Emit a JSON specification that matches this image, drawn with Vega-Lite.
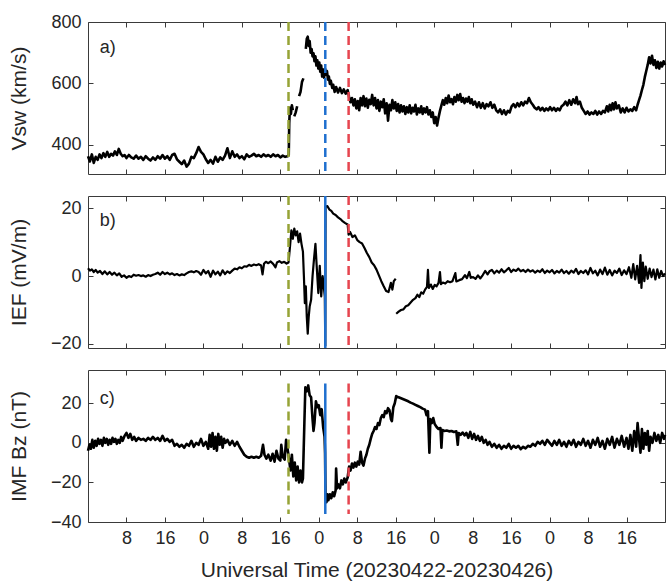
{
"$schema":"https://vega.github.io/schema/vega-lite/v6.json",
"background":"white",
"padding":{"left":7,"top":12,"right":2,"bottom":2},
"autosize":{"type":"pad"},
"config":{
 "view":{"stroke":"#3a3a3a","strokeWidth":1},
 "font":"Liberation Sans",
 "axis":{"domain":false,"grid":false,"tickColor":"#3a3a3a","tickSize":-5,"tickWidth":1,"labelFont":"Liberation Sans","labelFontSize":18,"labelColor":"#262626","titleFont":"Liberation Sans","titleFontSize":21,"titleFontWeight":"normal","titleColor":"#262626"},
 "axisY":{"labelPadding":12},
 "axisX":{"labelPadding":12}
},
"datasets":{
"ev":[{"t":41.7,"c":"g"},{"t":49.35,"c":"b"},{"t":54.2,"c":"r"}],
"vsw":[
{"t":0,"v":362,"s":1},{"t":0.4,"v":345,"s":1},{"t":0.8,"v":368,"s":1},{"t":1.2,"v":340,"s":1},{"t":1.6,"v":360,"s":1},{"t":2.0,"v":350,"s":1},{"t":2.4,"v":368,"s":1},{"t":2.8,"v":356,"s":1},{"t":3.2,"v":372,"s":1},{"t":3.6,"v":360,"s":1},{"t":4.0,"v":376,"s":1},{"t":4.4,"v":360,"s":1},{"t":4.8,"v":370,"s":1},{"t":5.2,"v":364,"s":1},{"t":5.6,"v":378,"s":1},{"t":6.0,"v":366,"s":1},{"t":6.4,"v":386,"s":1},{"t":6.8,"v":370,"s":1},{"t":7.2,"v":362,"s":1},{"t":7.6,"v":366,"s":1},{"t":8.0,"v":356,"s":1},{"t":8.5,"v":366,"s":1},{"t":9.0,"v":358,"s":1},{"t":9.5,"v":354,"s":1},{"t":10.0,"v":364,"s":1},{"t":10.5,"v":354,"s":1},{"t":11.0,"v":360,"s":1},{"t":11.5,"v":350,"s":1},{"t":12.0,"v":362,"s":1},{"t":12.5,"v":354,"s":1},{"t":13.0,"v":348,"s":1},{"t":13.5,"v":358,"s":1},{"t":14.0,"v":350,"s":1},{"t":14.5,"v":362,"s":1},{"t":15.0,"v":354,"s":1},{"t":15.5,"v":366,"s":1},{"t":16.0,"v":354,"s":1},{"t":16.5,"v":362,"s":1},{"t":17.0,"v":350,"s":1},{"t":17.5,"v":366,"s":1},{"t":18.0,"v":370,"s":1},{"t":18.5,"v":352,"s":1},{"t":19.0,"v":344,"s":1},{"t":19.5,"v":336,"s":1},{"t":20.0,"v":348,"s":1},{"t":20.5,"v":328,"s":1},{"t":21.0,"v":338,"s":1},{"t":21.5,"v":360,"s":1},{"t":22.0,"v":356,"s":1},{"t":22.5,"v":372,"s":1},{"t":23.0,"v":392,"s":1},{"t":23.5,"v":376,"s":1},{"t":24.0,"v":368,"s":1},{"t":24.5,"v":352,"s":1},{"t":25.0,"v":340,"s":1},{"t":25.5,"v":350,"s":1},{"t":26.0,"v":338,"s":1},{"t":26.5,"v":360,"s":1},{"t":27.0,"v":344,"s":1},{"t":27.5,"v":358,"s":1},{"t":28.0,"v":350,"s":1},{"t":28.5,"v":364,"s":1},{"t":29.0,"v":388,"s":1},{"t":29.5,"v":356,"s":1},{"t":30.0,"v":378,"s":1},{"t":30.5,"v":360,"s":1},{"t":31.0,"v":368,"s":1},{"t":31.5,"v":356,"s":1},{"t":32.0,"v":362,"s":1},{"t":32.5,"v":352,"s":1},{"t":33.0,"v":368,"s":1},{"t":33.5,"v":360,"s":1},{"t":34.0,"v":364,"s":1},{"t":34.5,"v":370,"s":1},{"t":35.0,"v":362,"s":1},{"t":35.5,"v":366,"s":1},{"t":36.0,"v":360,"s":1},{"t":36.5,"v":368,"s":1},{"t":37.0,"v":362,"s":1},{"t":37.5,"v":366,"s":1},{"t":38.0,"v":360,"s":1},{"t":38.5,"v":368,"s":1},{"t":39.0,"v":362,"s":1},{"t":39.5,"v":366,"s":1},{"t":40.0,"v":358,"s":1},{"t":40.5,"v":364,"s":1},{"t":41.0,"v":360,"s":1},{"t":41.5,"v":362,"s":1},{"t":41.75,"v":366,"s":1},{"t":41.85,"v":470,"s":1},{"t":42.0,"v":520,"s":1},{"t":42.2,"v":500,"s":1},{"t":42.4,"v":528,"s":1},{"t":42.6,"v":512,"s":1},
{"t":42.9,"v":492,"s":2},{"t":43.2,"v":505,"s":2},{"t":43.5,"v":525,"s":2},
{"t":43.9,"v":558,"s":3},{"t":44.2,"v":572,"s":3},{"t":44.5,"v":604,"s":3},{"t":44.8,"v":616,"s":3},
{"t":45.3,"v":712,"s":4},{"t":45.5,"v":745,"s":4},{"t":45.7,"v":752,"s":4},{"t":45.9,"v":722,"s":4},{"t":46.1,"v":738,"s":4},{"t":46.3,"v":700,"s":4},{"t":46.5,"v":712,"s":4},{"t":46.7,"v":688,"s":4},{"t":46.9,"v":698,"s":4},{"t":47.1,"v":672,"s":4},{"t":47.3,"v":688,"s":4},{"t":47.5,"v":658,"s":4},{"t":47.7,"v":675,"s":4},{"t":47.9,"v":648,"s":4},{"t":48.1,"v":668,"s":4},{"t":48.3,"v":638,"s":4},{"t":48.5,"v":658,"s":4},{"t":48.7,"v":622,"s":4},{"t":48.9,"v":645,"s":4},{"t":49.1,"v":618,"s":4},{"t":49.3,"v":648,"s":4},{"t":49.5,"v":628,"s":4},{"t":49.7,"v":640,"s":4},{"t":49.9,"v":612,"s":4},{"t":50.1,"v":622,"s":4},{"t":50.3,"v":598,"s":4},{"t":50.5,"v":608,"s":4},{"t":50.8,"v":585,"s":4},{"t":51.0,"v":595,"s":4},{"t":51.3,"v":572,"s":4},{"t":51.6,"v":588,"s":4},{"t":52.0,"v":570,"s":4},{"t":52.4,"v":585,"s":4},{"t":52.8,"v":568,"s":4},{"t":53.2,"v":580,"s":4},{"t":53.6,"v":566,"s":4},{"t":54.0,"v":578,"s":4},{"t":54.3,"v":555,"s":4},{"t":54.6,"v":538,"s":4},{"t":54.9,"v":552,"s":4},{"t":55.2,"v":528,"s":4},{"t":55.5,"v":548,"s":4},{"t":55.8,"v":518,"s":4},{"t":56.1,"v":542,"s":4},{"t":56.4,"v":512,"s":4},{"t":56.7,"v":552,"s":4},{"t":57.0,"v":528,"s":4},{"t":57.3,"v":558,"s":4},{"t":57.6,"v":525,"s":4},{"t":57.9,"v":550,"s":4},{"t":58.2,"v":520,"s":4},{"t":58.5,"v":546,"s":4},{"t":58.8,"v":532,"s":4},{"t":59.1,"v":562,"s":4},{"t":59.4,"v":528,"s":4},{"t":59.7,"v":552,"s":4},{"t":60.0,"v":518,"s":4},{"t":60.3,"v":545,"s":4},{"t":60.6,"v":510,"s":4},{"t":60.9,"v":540,"s":4},{"t":61.2,"v":522,"s":4},{"t":61.5,"v":548,"s":4},{"t":61.8,"v":502,"s":4},{"t":62.1,"v":535,"s":4},{"t":62.4,"v":478,"s":4},{"t":62.7,"v":530,"s":4},{"t":63.0,"v":512,"s":4},{"t":63.3,"v":545,"s":4},{"t":63.6,"v":518,"s":4},{"t":63.9,"v":538,"s":4},{"t":64.2,"v":510,"s":4},{"t":64.5,"v":532,"s":4},{"t":64.8,"v":505,"s":4},{"t":65.1,"v":528,"s":4},{"t":65.4,"v":508,"s":4},{"t":65.7,"v":525,"s":4},{"t":66.0,"v":500,"s":4},{"t":66.3,"v":522,"s":4},{"t":66.6,"v":505,"s":4},{"t":66.9,"v":528,"s":4},{"t":67.2,"v":502,"s":4},{"t":67.5,"v":520,"s":4},{"t":67.8,"v":508,"s":4},{"t":68.1,"v":530,"s":4},{"t":68.4,"v":498,"s":4},{"t":68.7,"v":518,"s":4},{"t":69.0,"v":505,"s":4},{"t":69.3,"v":525,"s":4},{"t":69.6,"v":500,"s":4},{"t":69.9,"v":518,"s":4},{"t":70.2,"v":505,"s":4},{"t":70.5,"v":522,"s":4},{"t":70.8,"v":498,"s":4},{"t":71.1,"v":512,"s":4},{"t":71.4,"v":490,"s":4},{"t":71.7,"v":505,"s":4},{"t":72.0,"v":470,"s":4},{"t":72.3,"v":490,"s":4},{"t":72.6,"v":462,"s":4},{"t":72.9,"v":488,"s":4},{"t":73.2,"v":510,"s":4},{"t":73.5,"v":528,"s":4},{"t":73.8,"v":545,"s":4},{"t":74.1,"v":530,"s":4},{"t":74.4,"v":552,"s":4},{"t":74.7,"v":535,"s":4},{"t":75.0,"v":560,"s":4},{"t":75.3,"v":538,"s":4},{"t":75.6,"v":548,"s":4},{"t":75.9,"v":532,"s":4},{"t":76.2,"v":555,"s":4},{"t":76.5,"v":540,"s":4},{"t":76.8,"v":562,"s":4},{"t":77.1,"v":545,"s":4},{"t":77.4,"v":565,"s":4},{"t":77.7,"v":540,"s":4},{"t":78.0,"v":552,"s":4},{"t":78.3,"v":535,"s":4},{"t":78.6,"v":550,"s":4},{"t":78.9,"v":540,"s":4},{"t":79.2,"v":555,"s":4},{"t":79.5,"v":535,"s":4},{"t":79.8,"v":548,"s":4},{"t":80.1,"v":530,"s":4},{"t":80.5,"v":540,"s":4},{"t":80.9,"v":522,"s":4},{"t":81.3,"v":538,"s":4},{"t":81.7,"v":520,"s":4},{"t":82.1,"v":535,"s":4},{"t":82.5,"v":518,"s":4},{"t":82.9,"v":532,"s":4},{"t":83.3,"v":525,"s":4},{"t":83.7,"v":538,"s":4},{"t":84.1,"v":520,"s":4},{"t":84.5,"v":530,"s":4},{"t":84.9,"v":512,"s":4},{"t":85.3,"v":505,"s":4},{"t":85.7,"v":515,"s":4},{"t":86.1,"v":500,"s":4},{"t":86.5,"v":512,"s":4},{"t":86.9,"v":498,"s":4},{"t":87.3,"v":510,"s":4},{"t":87.7,"v":505,"s":4},{"t":88.1,"v":525,"s":4},{"t":88.5,"v":532,"s":4},{"t":88.9,"v":522,"s":4},{"t":89.3,"v":535,"s":4},{"t":89.7,"v":525,"s":4},{"t":90.1,"v":538,"s":4},{"t":90.5,"v":528,"s":4},{"t":90.9,"v":540,"s":4},{"t":91.3,"v":535,"s":4},{"t":91.7,"v":552,"s":4},{"t":92.1,"v":538,"s":4},{"t":92.5,"v":530,"s":4},{"t":92.9,"v":520,"s":4},{"t":93.3,"v":515,"s":4},{"t":93.7,"v":522,"s":4},{"t":94.1,"v":512,"s":4},{"t":94.5,"v":520,"s":4},{"t":94.9,"v":510,"s":4},{"t":95.3,"v":518,"s":4},{"t":95.7,"v":512,"s":4},{"t":96.1,"v":522,"s":4},{"t":96.5,"v":512,"s":4},{"t":96.9,"v":520,"s":4},{"t":97.3,"v":510,"s":4},{"t":97.7,"v":518,"s":4},{"t":98.1,"v":512,"s":4},{"t":98.5,"v":525,"s":4},{"t":98.9,"v":530,"s":4},{"t":99.3,"v":540,"s":4},{"t":99.7,"v":528,"s":4},{"t":100.1,"v":545,"s":4},{"t":100.5,"v":530,"s":4},{"t":100.9,"v":548,"s":4},{"t":101.3,"v":535,"s":4},{"t":101.6,"v":555,"s":4},{"t":101.9,"v":532,"s":4},{"t":102.3,"v":540,"s":4},{"t":102.7,"v":520,"s":4},{"t":103.1,"v":510,"s":4},{"t":103.5,"v":500,"s":4},{"t":103.9,"v":508,"s":4},{"t":104.3,"v":498,"s":4},{"t":104.7,"v":505,"s":4},{"t":105.1,"v":500,"s":4},{"t":105.5,"v":510,"s":4},{"t":105.9,"v":498,"s":4},{"t":106.3,"v":508,"s":4},{"t":106.7,"v":500,"s":4},{"t":107.1,"v":510,"s":4},{"t":107.5,"v":505,"s":4},{"t":107.9,"v":525,"s":4},{"t":108.2,"v":508,"s":4},{"t":108.5,"v":530,"s":4},{"t":108.8,"v":512,"s":4},{"t":109.1,"v":535,"s":4},{"t":109.4,"v":515,"s":4},{"t":109.7,"v":538,"s":4},{"t":110.0,"v":518,"s":4},{"t":110.4,"v":528,"s":4},{"t":110.8,"v":505,"s":4},{"t":111.2,"v":518,"s":4},{"t":111.6,"v":505,"s":4},{"t":112.0,"v":520,"s":4},{"t":112.4,"v":508,"s":4},{"t":112.8,"v":515,"s":4},{"t":113.2,"v":510,"s":4},{"t":113.6,"v":522,"s":4},{"t":114.0,"v":512,"s":4},{"t":114.3,"v":530,"s":4},{"t":114.6,"v":545,"s":4},{"t":114.9,"v":560,"s":4},{"t":115.2,"v":578,"s":4},{"t":115.5,"v":595,"s":4},{"t":115.8,"v":620,"s":4},{"t":116.1,"v":640,"s":4},{"t":116.4,"v":660,"s":4},{"t":116.7,"v":685,"s":4},{"t":117.0,"v":665,"s":4},{"t":117.3,"v":690,"s":4},{"t":117.6,"v":660,"s":4},{"t":117.9,"v":675,"s":4},{"t":118.2,"v":650,"s":4},{"t":118.5,"v":670,"s":4},{"t":118.8,"v":648,"s":4},{"t":119.1,"v":668,"s":4},{"t":119.4,"v":655,"s":4},{"t":119.7,"v":672,"s":4},{"t":120.0,"v":660,"s":4}
],
"ief":[
{"t":0,"v":2.3,"s":1},{"t":0.4,"v":1.6,"s":1},{"t":0.8,"v":2.0,"s":1},{"t":1.2,"v":1.2,"s":1},{"t":1.6,"v":1.8,"s":1},{"t":2.0,"v":1.0,"s":1},{"t":2.5,"v":1.5,"s":1},{"t":3.0,"v":0.6,"s":1},{"t":3.5,"v":1.4,"s":1},{"t":4.0,"v":0.5,"s":1},{"t":4.5,"v":1.2,"s":1},{"t":5.0,"v":0.4,"s":1},{"t":5.5,"v":1.0,"s":1},{"t":6.0,"v":0.2,"s":1},{"t":6.5,"v":0.8,"s":1},{"t":7.0,"v":-0.2,"s":1},{"t":7.5,"v":0.2,"s":1},{"t":8.0,"v":-0.5,"s":1},{"t":8.5,"v":0.0,"s":1},{"t":9.0,"v":-0.3,"s":1},{"t":9.5,"v":0.4,"s":1},{"t":10.0,"v":0.1,"s":1},{"t":10.5,"v":0.3,"s":1},{"t":11.0,"v":0.0,"s":1},{"t":11.5,"v":0.2,"s":1},{"t":12.0,"v":-0.2,"s":1},{"t":12.5,"v":0.3,"s":1},{"t":13.0,"v":0.0,"s":1},{"t":13.5,"v":0.4,"s":1},{"t":14.0,"v":0.6,"s":1},{"t":14.5,"v":1.0,"s":1},{"t":15.0,"v":0.4,"s":1},{"t":15.5,"v":1.2,"s":1},{"t":16.0,"v":0.6,"s":1},{"t":16.5,"v":1.0,"s":1},{"t":17.0,"v":0.5,"s":1},{"t":17.5,"v":0.8,"s":1},{"t":18.0,"v":0.3,"s":1},{"t":18.5,"v":0.6,"s":1},{"t":19.0,"v":0.2,"s":1},{"t":19.5,"v":0.5,"s":1},{"t":20.0,"v":0.3,"s":1},{"t":20.5,"v":0.8,"s":1},{"t":21.0,"v":1.2,"s":1},{"t":21.5,"v":1.4,"s":1},{"t":22.0,"v":1.1,"s":1},{"t":22.5,"v":1.5,"s":1},{"t":23.0,"v":1.2,"s":1},{"t":23.5,"v":0.4,"s":1},{"t":24.0,"v":1.8,"s":1},{"t":24.5,"v":0.8,"s":1},{"t":25.0,"v":1.5,"s":1},{"t":25.5,"v":-0.2,"s":1},{"t":26.0,"v":1.6,"s":1},{"t":26.5,"v":0.5,"s":1},{"t":27.0,"v":1.3,"s":1},{"t":27.5,"v":0.2,"s":1},{"t":28.0,"v":1.7,"s":1},{"t":28.5,"v":0.6,"s":1},{"t":29.0,"v":1.4,"s":1},{"t":29.5,"v":0.9,"s":1},{"t":30.0,"v":1.6,"s":1},{"t":30.5,"v":2.2,"s":1},{"t":31.0,"v":2.0,"s":1},{"t":31.5,"v":2.6,"s":1},{"t":32.0,"v":2.3,"s":1},{"t":32.5,"v":2.9,"s":1},{"t":33.0,"v":2.8,"s":1},{"t":33.5,"v":3.3,"s":1},{"t":34.0,"v":3.0,"s":1},{"t":34.5,"v":3.4,"s":1},{"t":35.0,"v":3.2,"s":1},{"t":35.5,"v":3.5,"s":1},{"t":36.0,"v":3.1,"s":1},{"t":36.3,"v":0.5,"s":1},{"t":36.6,"v":3.6,"s":1},{"t":37.0,"v":4.2,"s":1},{"t":37.5,"v":3.8,"s":1},{"t":38.0,"v":4.3,"s":1},{"t":38.5,"v":3.6,"s":1},{"t":39.0,"v":2.6,"s":1},{"t":39.3,"v":4.0,"s":1},{"t":39.8,"v":4.4,"s":1},{"t":40.3,"v":3.9,"s":1},{"t":40.8,"v":4.2,"s":1},{"t":41.3,"v":3.7,"s":1},{"t":41.7,"v":4.0,"s":1},{"t":42.0,"v":8.5,"s":1},{"t":42.3,"v":13.5,"s":1},{"t":42.6,"v":11.0,"s":1},{"t":42.9,"v":14.0,"s":1},{"t":43.2,"v":12.0,"s":1},{"t":43.5,"v":13.2,"s":1},{"t":43.8,"v":10.0,"s":1},{"t":44.1,"v":12.5,"s":1},{"t":44.4,"v":9.5,"s":1},{"t":44.7,"v":7.2,"s":1},{"t":44.9,"v":0.0,"s":1},{"t":45.1,"v":-8.0,"s":1},{"t":45.3,"v":-3.0,"s":1},{"t":45.5,"v":-12.0,"s":1},{"t":45.7,"v":-17.0,"s":1},{"t":45.9,"v":-12.0,"s":1},{"t":46.1,"v":-9.0,"s":1},{"t":46.4,"v":-7.0,"s":1},{"t":46.7,"v":0.0,"s":1},{"t":47.0,"v":5.0,"s":1},{"t":47.3,"v":9.5,"s":1},{"t":47.6,"v":2.0,"s":1},{"t":47.9,"v":-5.0,"s":1},{"t":48.2,"v":3.0,"s":1},{"t":48.5,"v":-6.0,"s":1},{"t":48.8,"v":0.0,"s":1},{"t":49.1,"v":-4.0,"s":1},{"t":49.25,"v":-6.0,"s":1},{"t":49.35,"v":-20.5,"s":1},{"t":49.4,"v":20.5,"s":1},{"t":49.8,"v":20.6,"s":1},{"t":50.2,"v":19.6,"s":1},{"t":50.6,"v":19.2,"s":1},{"t":51.0,"v":18.4,"s":1},{"t":51.5,"v":18.0,"s":1},{"t":52.0,"v":17.3,"s":1},{"t":52.5,"v":16.8,"s":1},{"t":53.0,"v":16.1,"s":1},{"t":53.5,"v":15.6,"s":1},{"t":54.0,"v":15.2,"s":1},{"t":54.2,"v":12.2,"s":1},{"t":54.5,"v":13.0,"s":1},{"t":55.0,"v":11.5,"s":1},{"t":55.5,"v":12.0,"s":1},{"t":56.0,"v":10.6,"s":1},{"t":56.5,"v":10.0,"s":1},{"t":57.0,"v":9.6,"s":1},{"t":57.5,"v":8.3,"s":1},{"t":58.0,"v":6.8,"s":1},{"t":58.5,"v":5.6,"s":1},{"t":59.0,"v":4.0,"s":1},{"t":59.5,"v":3.2,"s":1},{"t":60.0,"v":1.9,"s":1},{"t":60.5,"v":0.2,"s":1},{"t":61.0,"v":-1.5,"s":1},{"t":61.5,"v":-3.0,"s":1},{"t":62.0,"v":-4.4,"s":1},{"t":62.5,"v":-4.7,"s":1},{"t":63.0,"v":-2.0,"s":1},{"t":63.3,"v":-4.0,"s":1},{"t":63.6,"v":-1.5,"s":1},{"t":64.0,"v":-0.8,"s":1},
{"t":64.1,"v":-11.1,"s":2},{"t":64.6,"v":-10.5,"s":2},{"t":65.1,"v":-10.0,"s":2},{"t":65.6,"v":-9.8,"s":2},{"t":66.1,"v":-8.9,"s":2},{"t":66.6,"v":-8.6,"s":2},{"t":67.1,"v":-7.8,"s":2},{"t":67.6,"v":-7.0,"s":2},{"t":68.1,"v":-6.5,"s":2},{"t":68.5,"v":-5.5,"s":2},{"t":68.9,"v":-6.2,"s":2},{"t":69.3,"v":-4.8,"s":2},{"t":69.7,"v":-5.2,"s":2},{"t":70.1,"v":-4.0,"s":2},{"t":70.5,"v":-3.2,"s":2},{"t":70.7,"v":1.8,"s":2},{"t":70.9,"v":-3.5,"s":2},{"t":71.3,"v":-2.5,"s":2},{"t":71.7,"v":-3.8,"s":2},{"t":72.1,"v":-2.6,"s":2},{"t":72.5,"v":-3.0,"s":2},{"t":72.9,"v":-2.0,"s":2},{"t":73.2,"v":1.2,"s":2},{"t":73.4,"v":-2.4,"s":2},{"t":73.8,"v":-1.9,"s":2},{"t":74.3,"v":-2.2,"s":2},{"t":74.8,"v":-1.5,"s":2},{"t":75.3,"v":-1.8,"s":2},{"t":75.8,"v":-1.5,"s":2},{"t":76.4,"v":0.9,"s":2},{"t":76.6,"v":-1.6,"s":2},{"t":77.2,"v":-1.2,"s":2},{"t":77.8,"v":-0.9,"s":2},{"t":78.4,"v":0.3,"s":2},{"t":78.8,"v":-0.6,"s":2},{"t":79.3,"v":1.2,"s":2},{"t":79.6,"v":-0.5,"s":2},{"t":80.1,"v":-0.3,"s":2},{"t":80.6,"v":-0.8,"s":2},{"t":81.1,"v":0.2,"s":2},{"t":81.6,"v":-0.7,"s":2},{"t":82.1,"v":0.3,"s":2},{"t":82.6,"v":1.5,"s":2},{"t":83.1,"v":0.5,"s":2},{"t":83.5,"v":1.4,"s":2},{"t":84.0,"v":1.8,"s":2},{"t":84.5,"v":0.8,"s":2},{"t":85.0,"v":1.6,"s":2},{"t":85.5,"v":1.0,"s":2},{"t":86.0,"v":2.0,"s":2},{"t":86.5,"v":1.1,"s":2},{"t":87.0,"v":1.7,"s":2},{"t":87.5,"v":2.4,"s":2},{"t":88.0,"v":1.2,"s":2},{"t":88.5,"v":1.9,"s":2},{"t":89.0,"v":1.5,"s":2},{"t":89.5,"v":2.2,"s":2},{"t":90.0,"v":1.4,"s":2},{"t":90.5,"v":1.8,"s":2},{"t":91.0,"v":1.2,"s":2},{"t":91.5,"v":1.9,"s":2},{"t":92.0,"v":1.3,"s":2},{"t":92.5,"v":1.7,"s":2},{"t":93.0,"v":1.0,"s":2},{"t":93.5,"v":1.6,"s":2},{"t":94.0,"v":1.2,"s":2},{"t":94.5,"v":2.0,"s":2},{"t":95.0,"v":0.9,"s":2},{"t":95.5,"v":1.6,"s":2},{"t":96.0,"v":1.1,"s":2},{"t":96.5,"v":1.8,"s":2},{"t":97.0,"v":0.8,"s":2},{"t":97.5,"v":1.5,"s":2},{"t":98.0,"v":1.0,"s":2},{"t":98.5,"v":1.9,"s":2},{"t":99.0,"v":0.9,"s":2},{"t":99.5,"v":1.5,"s":2},{"t":100.0,"v":0.7,"s":2},{"t":100.5,"v":1.6,"s":2},{"t":101.0,"v":1.0,"s":2},{"t":101.5,"v":2.1,"s":2},{"t":102.0,"v":0.6,"s":2},{"t":102.5,"v":1.5,"s":2},{"t":103.0,"v":0.9,"s":2},{"t":103.5,"v":1.7,"s":2},{"t":104.0,"v":0.5,"s":2},{"t":104.5,"v":2.4,"s":2},{"t":105.0,"v":0.8,"s":2},{"t":105.5,"v":1.6,"s":2},{"t":106.0,"v":0.2,"s":2},{"t":106.5,"v":1.9,"s":2},{"t":107.0,"v":0.6,"s":2},{"t":107.5,"v":2.5,"s":2},{"t":108.0,"v":0.4,"s":2},{"t":108.5,"v":1.8,"s":2},{"t":109.0,"v":0.2,"s":2},{"t":109.5,"v":1.6,"s":2},{"t":110.0,"v":0.9,"s":2},{"t":110.5,"v":2.2,"s":2},{"t":111.0,"v":0.3,"s":2},{"t":111.5,"v":1.7,"s":2},{"t":112.0,"v":0.6,"s":2},{"t":112.5,"v":2.6,"s":2},{"t":113.0,"v":-0.5,"s":2},{"t":113.4,"v":3.5,"s":2},{"t":113.8,"v":-1.0,"s":2},{"t":114.2,"v":3.0,"s":2},{"t":114.6,"v":-2.0,"s":2},{"t":114.9,"v":6.2,"s":2},{"t":115.1,"v":-3.5,"s":2},{"t":115.4,"v":4.0,"s":2},{"t":115.7,"v":-1.5,"s":2},{"t":116.0,"v":2.8,"s":2},{"t":116.4,"v":-0.8,"s":2},{"t":116.8,"v":2.2,"s":2},{"t":117.2,"v":-0.3,"s":2},{"t":117.6,"v":1.9,"s":2},{"t":118.0,"v":-1.0,"s":2},{"t":118.4,"v":2.0,"s":2},{"t":118.8,"v":-0.5,"s":2},{"t":119.2,"v":1.5,"s":2},{"t":119.6,"v":0.0,"s":2},{"t":120.0,"v":0.8,"s":2}
],
"bz":[
{"t":0,"v":-4},{"t":0.3,"v":-1},{"t":0.6,"v":-3},{"t":0.9,"v":1.5},{"t":1.2,"v":-2.5},{"t":1.5,"v":1},{"t":1.8,"v":-1.5},{"t":2.1,"v":2},{"t":2.4,"v":-0.5},{"t":2.7,"v":1.5},{"t":3.0,"v":-1.5},{"t":3.3,"v":2.5},{"t":3.6,"v":0},{"t":3.9,"v":2},{"t":4.2,"v":-1},{"t":4.5,"v":1.5},{"t":4.8,"v":-0.5},{"t":5.1,"v":2.5},{"t":5.4,"v":0.5},{"t":5.7,"v":2},{"t":6.0,"v":-0.5},{"t":6.3,"v":1.5},{"t":6.6,"v":0},{"t":6.9,"v":3},{"t":7.2,"v":1},{"t":7.6,"v":3.5},{"t":8.0,"v":5},{"t":8.4,"v":2.5},{"t":8.8,"v":4.5},{"t":9.2,"v":1.5},{"t":9.6,"v":3},{"t":10,"v":1},{"t":10.5,"v":2.5},{"t":11,"v":1.5},{"t":11.5,"v":2},{"t":12,"v":1},{"t":12.5,"v":2.5},{"t":13,"v":1.5},{"t":13.5,"v":3},{"t":14,"v":1.5},{"t":14.5,"v":2.5},{"t":15,"v":1},{"t":15.5,"v":3.5},{"t":16,"v":1},{"t":16.5,"v":2},{"t":17,"v":0.5},{"t":17.5,"v":1.5},{"t":18,"v":-1.5},{"t":18.5,"v":-0.5},{"t":19,"v":-2},{"t":19.5,"v":-1},{"t":20,"v":-2.5},{"t":20.5,"v":-0.5},{"t":21,"v":-1.5},{"t":21.5,"v":1},{"t":22,"v":-2},{"t":22.5,"v":0},{"t":23,"v":-1},{"t":23.5,"v":2},{"t":24,"v":-1.5},{"t":24.5,"v":0.5},{"t":25,"v":-3},{"t":25.3,"v":4},{"t":25.6,"v":-2},{"t":25.9,"v":5},{"t":26.2,"v":-3},{"t":26.5,"v":3},{"t":26.8,"v":-4},{"t":27.1,"v":4.5},{"t":27.4,"v":-1},{"t":27.7,"v":3},{"t":28,"v":-2.5},{"t":28.3,"v":2},{"t":28.6,"v":0},{"t":29,"v":1.5},{"t":29.5,"v":-1},{"t":30,"v":1},{"t":30.5,"v":-1.5},{"t":31,"v":0.5},{"t":31.5,"v":-2},{"t":32,"v":-4},{"t":32.5,"v":-6},{"t":33,"v":-7},{"t":33.5,"v":-7.5},{"t":34,"v":-7},{"t":34.5,"v":-7.5},{"t":35,"v":-7},{"t":35.5,"v":-7.5},{"t":36,"v":-6.5},{"t":36.4,"v":-1},{"t":36.7,"v":-6},{"t":37.1,"v":-8},{"t":37.5,"v":-6},{"t":38,"v":-9},{"t":38.4,"v":-5.5},{"t":38.8,"v":-9.5},{"t":39.2,"v":-4},{"t":39.6,"v":-8},{"t":40,"v":-9},{"t":40.2,"v":-1},{"t":40.5,"v":-7},{"t":40.9,"v":-8.5},{"t":41.2,"v":1.5},{"t":41.5,"v":-3},{"t":41.8,"v":-8},{"t":42.1,"v":-14},{"t":42.4,"v":-6},{"t":42.7,"v":-17},{"t":43,"v":-10},{"t":43.3,"v":-19},{"t":43.6,"v":-12},{"t":43.9,"v":-20},{"t":44.2,"v":-14},{"t":44.5,"v":-20},{"t":44.7,"v":-18},{"t":45,"v":10},{"t":45.2,"v":28},{"t":45.5,"v":26},{"t":45.8,"v":29},{"t":46.1,"v":24},{"t":46.4,"v":23},{"t":46.7,"v":12},{"t":46.9,"v":6},{"t":47.1,"v":10},{"t":47.4,"v":21},{"t":47.7,"v":18},{"t":48,"v":19},{"t":48.3,"v":14},{"t":48.6,"v":17},{"t":48.9,"v":8},{"t":49.2,"v":3},{"t":49.3,"v":-5},{"t":49.4,"v":-28},{"t":49.6,"v":-30},{"t":49.8,"v":-26},{"t":50.0,"v":-29},{"t":50.3,"v":-26},{"t":50.6,"v":-28},{"t":50.9,"v":-25},{"t":51.2,"v":-27},{"t":51.5,"v":-24},{"t":51.6,"v":-13},{"t":51.8,"v":-23},{"t":52.1,"v":-21},{"t":52.4,"v":-23},{"t":52.7,"v":-19},{"t":53.0,"v":-21},{"t":53.3,"v":-18},{"t":53.6,"v":-20},{"t":54.0,"v":-17.5},{"t":54.3,"v":-12},{"t":54.6,"v":-14},{"t":54.9,"v":-10.5},{"t":55.2,"v":-12.5},{"t":55.5,"v":-10},{"t":55.8,"v":-12},{"t":56.1,"v":-9.5},{"t":56.4,"v":-11},{"t":56.7,"v":-4.5},{"t":57.0,"v":-10},{"t":57.3,"v":-11.5},{"t":57.6,"v":-8},{"t":57.9,"v":-6},{"t":58.2,"v":-3},{"t":58.5,"v":-1},{"t":58.8,"v":2},{"t":59.1,"v":4.5},{"t":59.4,"v":6},{"t":59.7,"v":8},{"t":60.0,"v":7},{"t":60.3,"v":10},{"t":60.6,"v":9},{"t":60.9,"v":12.5},{"t":61.2,"v":14},{"t":61.5,"v":13},{"t":61.8,"v":16},{"t":62.1,"v":15},{"t":62.4,"v":17.5},{"t":62.7,"v":16.5},{"t":63.0,"v":12},{"t":63.2,"v":11},{"t":63.5,"v":18},{"t":63.8,"v":20},{"t":64.1,"v":23.6},{"t":64.6,"v":23},{"t":65.1,"v":22.5},{"t":65.6,"v":22},{"t":66.1,"v":21.5},{"t":66.6,"v":21},{"t":67.1,"v":20.3},{"t":67.6,"v":19.8},{"t":68.1,"v":19.2},{"t":68.6,"v":18.6},{"t":69.1,"v":18},{"t":69.6,"v":17.3},{"t":70.1,"v":16.8},{"t":70.4,"v":14},{"t":70.7,"v":16},{"t":71.0,"v":-5},{"t":71.2,"v":12},{"t":71.5,"v":10},{"t":71.8,"v":12.5},{"t":72.1,"v":9.5},{"t":72.5,"v":8},{"t":72.9,"v":7},{"t":73.3,"v":7.5},{"t":73.5,"v":-2.5},{"t":73.7,"v":6.5},{"t":74.1,"v":6},{"t":74.6,"v":6.2},{"t":75.1,"v":5.8},{"t":75.6,"v":6},{"t":76.1,"v":5.5},{"t":76.6,"v":5.8},{"t":76.9,"v":-1},{"t":77.1,"v":5},{"t":77.5,"v":4},{"t":77.9,"v":5.2},{"t":78.3,"v":3.8},{"t":78.7,"v":5},{"t":79.1,"v":2.5},{"t":79.5,"v":5.5},{"t":79.9,"v":2},{"t":80.3,"v":4.5},{"t":80.7,"v":1.5},{"t":81.1,"v":3.5},{"t":81.5,"v":1},{"t":81.9,"v":3},{"t":82.3,"v":0},{"t":82.7,"v":1.5},{"t":83.1,"v":-1},{"t":83.5,"v":0.5},{"t":84,"v":-2},{"t":84.5,"v":-0.5},{"t":85,"v":-2.5},{"t":85.5,"v":-1},{"t":86,"v":-3},{"t":86.5,"v":-1.5},{"t":87,"v":-2.5},{"t":87.5,"v":-0.5},{"t":88,"v":-3},{"t":88.5,"v":-1.5},{"t":89,"v":-2.5},{"t":89.5,"v":-1.5},{"t":90,"v":-3.2},{"t":90.5,"v":-2},{"t":91,"v":-2.8},{"t":91.5,"v":-1.5},{"t":92,"v":-2},{"t":92.5,"v":-0.5},{"t":93,"v":-1.5},{"t":93.5,"v":0.5},{"t":94,"v":-0.5},{"t":94.5,"v":1},{"t":95,"v":-1},{"t":95.5,"v":1.5},{"t":96,"v":0},{"t":96.5,"v":-1.5},{"t":97,"v":1},{"t":97.5,"v":-1},{"t":98,"v":1.5},{"t":98.5,"v":-1.5},{"t":99,"v":0.5},{"t":99.5,"v":-2},{"t":100,"v":1},{"t":100.5,"v":-1},{"t":101,"v":1.5},{"t":101.5,"v":-2},{"t":102,"v":0.5},{"t":102.5,"v":-1},{"t":103,"v":2},{"t":103.5,"v":-1.5},{"t":104,"v":1},{"t":104.5,"v":-2.5},{"t":105,"v":1.5},{"t":105.5,"v":-1},{"t":106,"v":2.5},{"t":106.5,"v":-2},{"t":107,"v":1},{"t":107.5,"v":-3},{"t":108,"v":2},{"t":108.5,"v":-1},{"t":109,"v":3},{"t":109.5,"v":-2.5},{"t":110,"v":2},{"t":110.5,"v":-1},{"t":111,"v":3.5},{"t":111.5,"v":-2},{"t":112,"v":2.5},{"t":112.4,"v":-3},{"t":112.8,"v":4},{"t":113.2,"v":-4},{"t":113.6,"v":6},{"t":114,"v":-2},{"t":114.3,"v":10},{"t":114.6,"v":2},{"t":114.9,"v":-5},{"t":115.2,"v":7},{"t":115.5,"v":-3},{"t":115.8,"v":5},{"t":116.1,"v":-1},{"t":116.4,"v":6},{"t":116.7,"v":-4},{"t":117,"v":3},{"t":117.4,"v":0},{"t":117.8,"v":5},{"t":118.2,"v":1},{"t":118.6,"v":4},{"t":119,"v":0},{"t":119.4,"v":5},{"t":119.8,"v":2},{"t":120,"v":4}
]
},
"spacing":22,
"bounds":"flush",
"vconcat":[
{
 "width":577,"height":152,
 "layer":[
  {"data":{"name":"vsw"},"mark":{"type":"line","color":"black","strokeWidth":2.6,"strokeJoin":"round"},
   "encoding":{
    "x":{"field":"t","type":"quantitative","scale":{"domain":[0,120],"nice":false,"zero":false},"axis":{"orient":"bottom","values":[8,16,24,32,40,48,56,64,72,80,88,96,104,112],"labels":false,"title":null}},
    "y":{"field":"v","type":"quantitative","scale":{"domain":[304,800],"nice":false,"zero":false},"axis":{"orient":"left","values":[400,600,800],"title":"Vsw (km/s)","minExtent":38,"maxExtent":38,"titlePadding":21}},
    "detail":{"field":"s","type":"nominal"}}},
  {"data":{"name":"ev"},"mark":{"type":"rule","strokeWidth":2.5,"strokeDash":[9,5]},
   "encoding":{
    "x":{"field":"t","type":"quantitative","scale":{"domain":[0,120],"nice":false,"zero":false},"axis":{"orient":"top","values":[8,16,24,32,40,48,56,64,72,80,88,96,104,112],"labels":false,"title":null}},
    "color":{"field":"c","type":"nominal","scale":{"domain":["g","b","r"],"range":["#96a336","#1f6fcf","#e6454f"]},"legend":null}}},
  {"data":{"values":[{"lab":"a)"}]},"mark":{"type":"text","align":"left","baseline":"alphabetic","fontSize":18,"font":"Liberation Sans","color":"#262626"},
   "encoding":{
    "x":{"datum":2.45,"type":"quantitative","scale":{"domain":[0,120],"nice":false,"zero":false},"axis":null},
    "y":{"datum":698,"type":"quantitative","scale":{"domain":[304,800],"nice":false,"zero":false},"axis":{"orient":"right","values":[400,600,800],"labels":false,"title":null}},
    "text":{"field":"lab"}}}
 ],
 "resolve":{"axis":{"x":"independent","y":"independent"}}
},
{
 "width":577,"height":152,
 "layer":[
  {"data":{"name":"ief"},"mark":{"type":"line","color":"black","strokeWidth":2.2,"strokeJoin":"round"},
   "encoding":{
    "x":{"field":"t","type":"quantitative","scale":{"domain":[0,120],"nice":false,"zero":false},"axis":{"orient":"bottom","values":[8,16,24,32,40,48,56,64,72,80,88,96,104,112],"labels":false,"title":null}},
    "y":{"field":"v","type":"quantitative","scale":{"domain":[-21.2,23.6],"nice":false,"zero":false},"axis":{"orient":"left","values":[-20,0,20],"title":"IEF (mV/m)","minExtent":38,"maxExtent":38,"titlePadding":21}},
    "detail":{"field":"s","type":"nominal"}}},
  {"data":{"name":"ev"},"mark":{"type":"rule","strokeWidth":2.5},
   "encoding":{
    "x":{"field":"t","type":"quantitative","scale":{"domain":[0,120],"nice":false,"zero":false},"axis":{"orient":"top","values":[8,16,24,32,40,48,56,64,72,80,88,96,104,112],"labels":false,"title":null}},
    "color":{"field":"c","type":"nominal","scale":{"domain":["g","b","r"],"range":["#96a336","#1f6fcf","#e6454f"]},"legend":null},
    "strokeDash":{"field":"c","type":"nominal","scale":{"domain":["g","b","r"],"range":[[9,5],[1,0],[9,5]]},"legend":null}}},
  {"data":{"values":[{"lab":"b)"}]},"mark":{"type":"text","align":"left","baseline":"alphabetic","fontSize":18,"font":"Liberation Sans","color":"#262626"},
   "encoding":{
    "x":{"datum":2.45,"type":"quantitative","scale":{"domain":[0,120],"nice":false,"zero":false},"axis":null},
    "y":{"datum":14.7,"type":"quantitative","scale":{"domain":[-21.2,23.6],"nice":false,"zero":false},"axis":{"orient":"right","values":[-20,0,20],"labels":false,"title":null}},
    "text":{"field":"lab"}}}
 ],
 "resolve":{"axis":{"x":"independent","y":"independent"}}
},
{
 "width":577,"height":152,
 "layer":[
  {"data":{"name":"bz"},"mark":{"type":"line","color":"black","strokeWidth":2.6,"strokeJoin":"round"},
   "encoding":{
    "x":{"field":"t","type":"quantitative","scale":{"domain":[0,120],"nice":false,"zero":false},"axis":{"orient":"bottom","values":[8,16,24,32,40,48,56,64,72,80,88,96,104,112],"labelExpr":"datum.value % 24","labelFlush":false,"title":"Universal Time (20230422-20230426)","titlePadding":12}},
    "y":{"field":"v","type":"quantitative","scale":{"domain":[-40,36.8],"nice":false,"zero":false},"axis":{"orient":"left","values":[-40,-20,0,20],"title":"IMF Bz (nT)","minExtent":38,"maxExtent":38,"titlePadding":21}}}},
  {"data":{"name":"ev"},"mark":{"type":"rule","strokeWidth":2.5},
   "encoding":{
    "x":{"field":"t","type":"quantitative","scale":{"domain":[0,120],"nice":false,"zero":false},"axis":{"orient":"top","values":[8,16,24,32,40,48,56,64,72,80,88,96,104,112],"labels":false,"title":null}},
    "y":{"datum":30,"type":"quantitative","scale":{"domain":[-40,36.8],"nice":false,"zero":false},"axis":null},
    "y2":{"datum":-36},
    "color":{"field":"c","type":"nominal","scale":{"domain":["g","b","r"],"range":["#96a336","#1f6fcf","#e6454f"]},"legend":null},
    "strokeDash":{"field":"c","type":"nominal","scale":{"domain":["g","b","r"],"range":[[9,5],[1,0],[9,5]]},"legend":null}}},
  {"data":{"values":[{"lab":"c)"}]},"mark":{"type":"text","align":"left","baseline":"alphabetic","fontSize":18,"font":"Liberation Sans","color":"#262626"},
   "encoding":{
    "x":{"datum":2.45,"type":"quantitative","scale":{"domain":[0,120],"nice":false,"zero":false},"axis":null},
    "y":{"datum":19.6,"type":"quantitative","scale":{"domain":[-40,36.8],"nice":false,"zero":false},"axis":{"orient":"right","values":[-40,-20,0,20],"labels":false,"title":null}},
    "text":{"field":"lab"}}}
 ],
 "resolve":{"axis":{"x":"independent","y":"independent"}}
}
]
}
